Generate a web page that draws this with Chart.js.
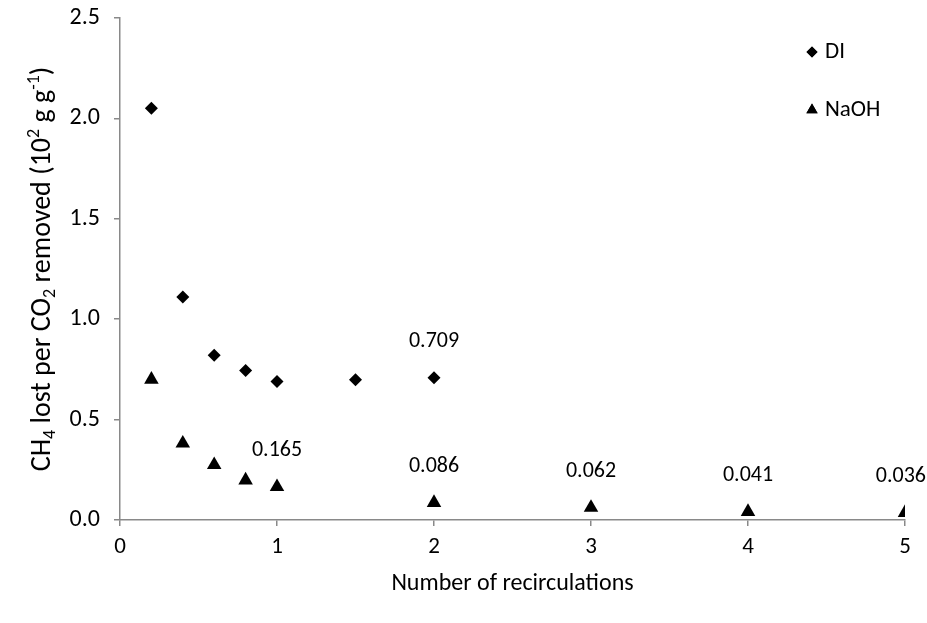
<!DOCTYPE html>
<html>
<head>
  <script src="https://cdn.jsdelivr.net/npm/chart.js"></script>
  <style>
    body { margin: 0; background: #fff; }
  </style>
</head>
<body>
  <canvas id="recircChart" width="927" height="623"></canvas>
<script>
  // values
  var diX = [0.2, 0.4, 0.6, 0.8, 1.0, 1.5, 2.0];
  var diY = [2.05, 1.11, 0.82, 0.745, 0.69, 0.698, 0.709];
  var diLabels = [null, null, null, null, null, null, '0.709'];

  var naohX = [0.2, 0.4, 0.6, 0.8, 1, 2, 3, 4, 5];
  var naohY = [0.70, 0.382, 0.275, 0.198, 0.165, 0.086, 0.062, 0.041, 0.036];
  var naohLabels = [null, null, null, null, '0.165', '0.086', '0.062', '0.041', '0.036'];

  var xTicks = [0, 1, 2, 3, 4, 5];
  var yTicks = [0, 0.5, 1.0, 1.5, 2.0, 2.5];

  var FONT = 'Carlito, Lato, sans-serif';
  var axisGrey = '#898989';

  function toPoints(xs, ys) {
    return xs.map(function (x, i) { return { x: x, y: ys[i] }; });
  }

  // value labels above selected points
  var valueLabels = {
    id: 'valueLabels',
    afterDatasetsDraw: function (chart) {
      var ctx = chart.ctx;
      ctx.save();
      ctx.font = '22px ' + FONT;
      ctx.fillStyle = '#000';
      ctx.textAlign = 'center';
      ctx.textBaseline = 'middle';
      chart.data.datasets.forEach(function (ds, di) {
        var meta = chart.getDatasetMeta(di);
        (ds.valueLabels || []).forEach(function (txt, i) {
          if (!txt) return;
          var el = meta.data[i];
          var w = ctx.measureText(txt).width;
          var x = Math.min(el.x, chart.width - w / 2 - 1);
          ctx.fillText(txt, x, el.y - 36);
        });
      });
      ctx.restore();
    }
  };

  // y title with sub/superscripts
  var yTitle = {
    id: 'yTitle',
    afterDraw: function (chart) {
      var ctx = chart.ctx;
      var area = chart.chartArea;
      var parts = [
        ['CH', 0], ['4', -1], [' lost per CO', 0], ['2', -1], [' removed (10', 0],
        ['2', 1], [' g g', 0], ['-1', 1], [')', 0]
      ];
      var size = 28, small = 18;
      ctx.save();
      var total = 0;
      parts.forEach(function (p) {
        ctx.font = (p[1] ? small : size) + 'px ' + FONT;
        total += ctx.measureText(p[0]).width;
      });
      ctx.translate(43, (area.top + area.bottom) / 2);
      ctx.rotate(-Math.PI / 2);
      ctx.fillStyle = '#000';
      ctx.textBaseline = 'middle';
      var x = -total / 2;
      parts.forEach(function (p) {
        ctx.font = (p[1] ? small : size) + 'px ' + FONT;
        var dy = p[1] === -1 ? 7 : (p[1] === 1 ? -9 : 0);
        ctx.fillText(p[0], x, dy);
        x += ctx.measureText(p[0]).width;
      });
      ctx.restore();
    }
  };

  // legend drawn inside the plot, top right
  var cornerLegend = {
    id: 'cornerLegend',
    afterDraw: function (chart) {
      var ctx = chart.ctx;
      ctx.save();
      ctx.font = '23px ' + FONT;
      ctx.textBaseline = 'middle';
      ctx.fillStyle = '#000';
      chart.data.datasets.forEach(function (ds, i) {
        var y = 52 + i * 58;
        Chart.helpers.drawPoint(ctx, {
          pointStyle: ds.pointStyle,
          radius: ds.pointStyle === 'triangle' ? 6.5 : 5.5,
          borderWidth: 0
        }, 812, y);
        ctx.fillStyle = '#000';
        ctx.fill();
        ctx.fillText(ds.label, 825, y);
      });
      ctx.restore();
    }
  };

  var ctx = document.getElementById('recircChart').getContext('2d');
  var chart = new Chart(ctx, {
    type: 'scatter',
    data: {
      datasets: [
        {
          label: 'DI',
          data: toPoints(diX, diY),
          valueLabels: diLabels,
          pointStyle: 'rectRot',
          pointRadius: 6.5,
          backgroundColor: '#000',
          borderWidth: 0
        },
        {
          label: 'NaOH',
          data: toPoints(naohX, naohY),
          valueLabels: naohLabels,
          pointStyle: 'triangle',
          pointRadius: 8.4,
          backgroundColor: '#000',
          borderWidth: 0
        }
      ]
    },
    options: {
      responsive: false,
      animation: false,
      layout: { padding: { top: 18, right: 22, left: 0, bottom: 0 } },
      plugins: {
        legend: { display: false },
        tooltip: { enabled: false }
      },
      scales: {
        x: {
          type: 'linear',
          min: 0,
          max: 5,
          afterBuildTicks: function (s) { s.ticks = xTicks.map(function (v) { return { value: v }; }); },
          afterFit: function (s) { s.height = 103; s.paddingLeft = 0; s.paddingRight = 0; },
          ticks: { color: '#000', font: { family: FONT, size: 23 }, padding: 7 },
          grid: { drawOnChartArea: false, drawTicks: true, tickLength: 6, color: axisGrey, lineWidth: 1.5 },
          border: { color: axisGrey, width: 1.5 },
          title: {
            display: true,
            text: 'Number of recirculations',
            color: '#000',
            font: { family: FONT, size: 24 },
            padding: { top: 0, bottom: 25 }
          }
        },
        y: {
          type: 'linear',
          min: 0,
          max: 2.5,
          afterBuildTicks: function (s) { s.ticks = yTicks.map(function (v) { return { value: v }; }); },
          afterFit: function (s) { s.width = 120; s.paddingTop = 0; s.paddingBottom = 0; },
          ticks: {
            color: '#000',
            font: { family: FONT, size: 24 },
            padding: 14,
            callback: function (v) { return v.toFixed(1); }
          },
          grid: { drawOnChartArea: false, drawTicks: true, tickLength: 6, color: axisGrey, lineWidth: 1.5 },
          border: { color: axisGrey, width: 1.5 }
        }
      }
    },
    plugins: [valueLabels, yTitle, cornerLegend]
  });
</script>
</body>
</html>
